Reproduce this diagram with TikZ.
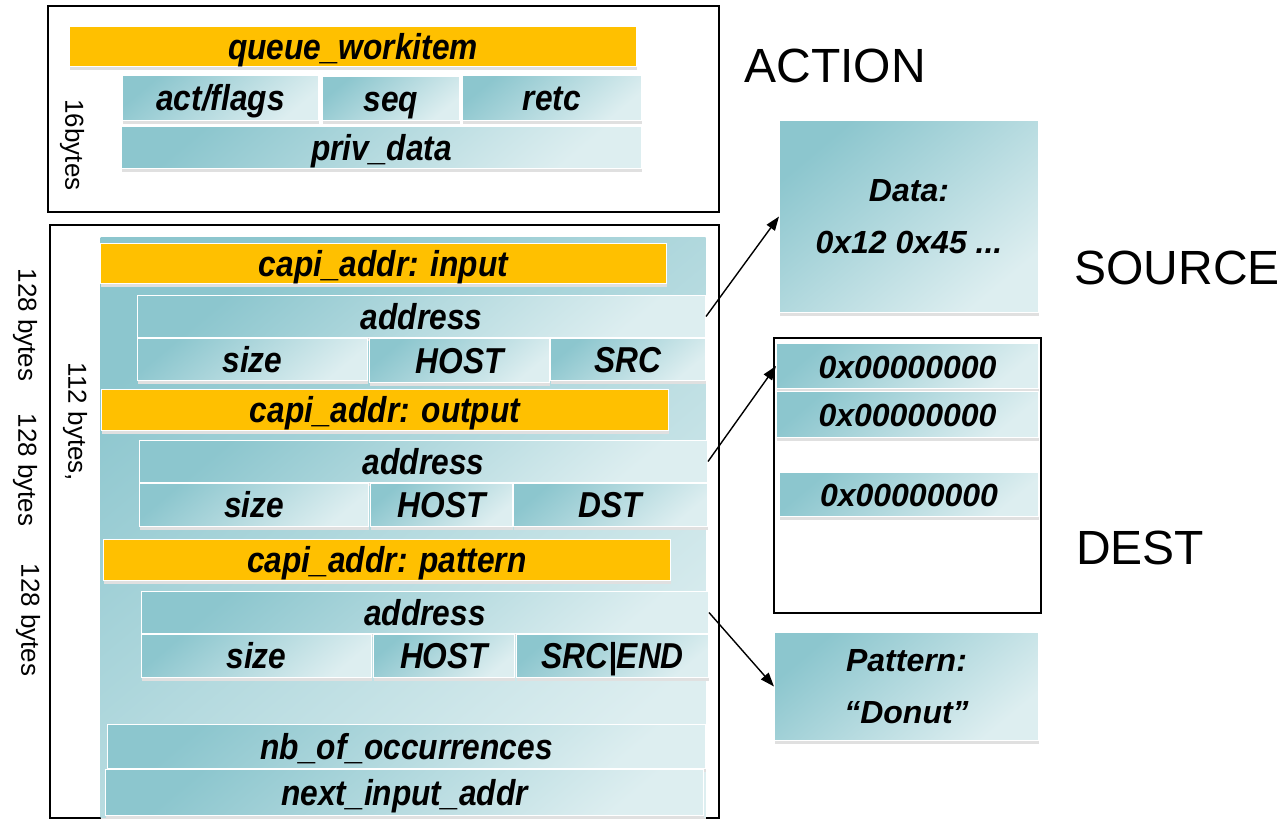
\documentclass[tikz,border=0pt]{standalone}
\usepackage{fontspec}
\setmainfont{Liberation Sans}
\newfontfamily\fldfamily[FakeStretch=0.88]{Liberation Sans}
\newcommand{\fldfont}{\fldfamily\bfseries\itshape\fontsize{36}{40}\selectfont}
\newcommand{\valfont}{\bfseries\itshape\fontsize{32}{52}\selectfont}
\newcommand{\tagfont}{\fontsize{48}{54}\selectfont}
\newcommand{\sizefont}{\fontsize{26}{30}\selectfont}
\definecolor{tealdark}{HTML}{8CC6CE}
\definecolor{teallight}{HTML}{DDEEF0}
\definecolor{hdrorange}{HTML}{FFC000}
\usetikzlibrary{arrows.meta,positioning,shadows}

\begin{document}
\begin{tikzpicture}[
  x=1pt, y=-1pt,
  cell/.style={draw=white, line width=1pt, top color=tealdark, bottom color=teallight,
              shading angle=40, inner sep=0pt, anchor=north west,
              drop shadow={shadow xshift=0pt, shadow yshift=-3pt, fill=black!12, opacity=1}},
  fld/.style={cell, font=\fldfont, text height=30pt, text depth=5pt},
  hdr/.style={draw=white, line width=1pt, fill=hdrorange, inner sep=0pt,
              anchor=north west, font=\fldfont, text height=30pt, text depth=5pt,
              drop shadow={shadow xshift=0pt, shadow yshift=-3pt, fill=black!12, opacity=1}},
  val/.style={cell, font=\valfont, align=center},
  row/.style={cell, font=\valfont, text height=28pt, text depth=4pt},
  frame/.style={draw=black, line width=1.6pt, inner sep=0pt, anchor=north west},
  tag/.style={font=\tagfont},
  bytes/.style={font=\sizefont, rotate=-90},
  ar/.style={-{Triangle[length=14pt, width=10pt]}, line width=1.4pt},
]
  \useasboundingbox (0,0) rectangle (1278,819);

  % ---- ACTION: queue work item ----
  \node[frame, minimum width=671, minimum height=206] (actbox) at (47,5) {};
  \node[hdr, minimum width=567, minimum height=40] (qwi) at (69,26) {queue\_workitem};
  \node[fld, minimum width=196, minimum height=45] (flags) at (122,75) {act/flags};
  \node[fld, minimum width=137, minimum height=44] (seq) at (322,76) {seq};
  \node[fld, minimum width=179, minimum height=45] (retc) at (462,75) {retc};
  \node[fld, minimum width=520, minimum height=42] (priv) at (121,126) {priv\_data};
  \node[bytes] (b16) at (72,145) {16bytes};
  \node[tag] (action) at (835,66) {ACTION};

  % ---- job structure ----
  \node[frame, minimum width=669, minimum height=593] (jobbox) at (49,224) {};
  \node[cell, draw=none, drop shadow={opacity=0}, minimum width=605, minimum height=580] (panel) at (100,237) {};

  % input
  \node[hdr, minimum width=566, minimum height=40] (inhdr) at (100,243) {capi\_addr: input};
  \node[fld, minimum width=568, minimum height=42] (inaddr) at (137,295) {address};
  \node[fld, minimum width=230, minimum height=42] (insize) at (137,338) {size};
  \node[fld, minimum width=180, minimum height=44] (inhost) at (369,338) {HOST};
  \node[fld, minimum width=155, minimum height=42] (insrc) at (550,338) {SRC};

  % output
  \node[hdr, minimum width=567, minimum height=41] (outhdr) at (101,389) {capi\_addr: output};
  \node[fld, minimum width=568, minimum height=42] (outaddr) at (139,440) {address};
  \node[fld, minimum width=229, minimum height=43] (outsize) at (139,483) {size};
  \node[fld, minimum width=142, minimum height=43] (outhost) at (370,483) {HOST};
  \node[fld, minimum width=194, minimum height=43] (outdst) at (513,483) {DST};

  % pattern
  \node[hdr, minimum width=567, minimum height=41] (pathdr) at (103,539) {capi\_addr: pattern};
  \node[fld, minimum width=567, minimum height=42] (pataddr) at (141,591) {address};
  \node[fld, minimum width=230, minimum height=43] (patsize) at (141,634) {size};
  \node[fld, minimum width=141, minimum height=43] (pathost) at (373,634) {HOST};
  \node[fld, minimum width=192, minimum height=43] (patend) at (516,634) {SRC|END};

  \node[fld, minimum width=598, minimum height=44] (nbocc) at (107,724) {nb\_of\_occurrences};
  \node[fld, minimum width=598, minimum height=46] (nextin) at (105,769) {next\_input\_addr};

  \node[bytes] (b128a) at (25,325) {128 bytes};
  \node[bytes] (b128b) at (25,470) {128 bytes};
  \node[bytes] (b128c) at (28,620) {128 bytes};
  \node[bytes] (b112) at (75,422) {112 bytes,};

  % ---- SOURCE / DEST / pattern buffers ----
  \node[val, minimum width=259, minimum height=192] (data) at (779,120) {Data:\\0x12 0x45 ...};
  \node[tag] (source) at (1177,268) {SOURCE};

  \node[frame, minimum width=267, minimum height=275] (destbox) at (773,337) {};
  \node[row, minimum width=262, minimum height=45] (dst1) at (776,343) {0x00000000};
  \node[row, minimum width=262, minimum height=46] (dst2) at (776,391) {0x00000000};
  \node[row, minimum width=259, minimum height=44] (dst3) at (779,472) {0x00000000};
  \node[tag] (dest) at (1140,548) {DEST};

  \node[val, minimum width=264, minimum height=108] (patbuf) at (774,632) {Pattern:\\“Donut”};

  % ---- pointers ----
  \draw[ar] (inaddr.east) -- (data.west);
  \draw[ar] (outaddr.east) -- (dst1.west);
  \draw[ar] (pataddr.east) -- (patbuf.west);
\end{tikzpicture}
\end{document}
